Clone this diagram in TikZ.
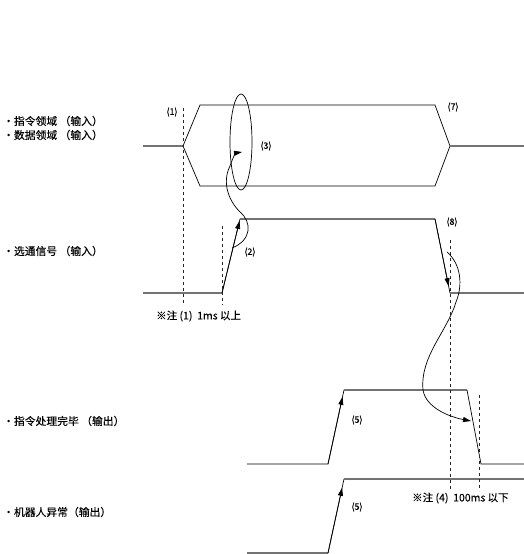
\documentclass[tikz,border=0pt]{standalone}
\usepackage{fontspec}
\newfontfamily\cjk[FakeBold=0.2]{Noto Sans CJK SC}
\usetikzlibrary{arrows.meta, shapes.geometric}

\begin{document}
\begin{tikzpicture}[
    x=1pt, y=-1pt,
    >={Triangle[length=8pt, width=5pt]},
    sig/.style={line width=1.1pt, black!55},
    wire/.style={line width=0.7pt, black},
    guide/.style={dashed, line width=0.7pt, black!85},
    lbl/.style={font=\cjk\fontsize{10.8}{11}\selectfont, anchor=west, inner sep=0pt},
    tag/.style={font=\cjk\fontsize{9}{10}\selectfont, inner sep=0pt},
    note/.style={font=\cjk\fontsize{10.5}{11}\selectfont, inner sep=0pt, anchor=west}
]
    \useasboundingbox (0,0) rectangle (524,554);

    % signal names
    \node[lbl] (cmdarea) at (3,121) {・指令领域 （输入）};
    \node[lbl] (dataarea) at (3,135) {・数据领域 （输入）};
    \node[lbl] (strobe) at (3,251) {・选通信号 （输入）};
    \node[lbl] (done) at (3,421) {·指令处理完毕 （输出）};
    \node[lbl] (alarm) at (3,512) {・机器人异常（输出）};

    % command / data bus
    \coordinate (b0) at (143,146);
    \coordinate (bl) at (183,146);
    \coordinate (btl) at (200,105);
    \coordinate (bbl) at (200,186);
    \coordinate (btr) at (435,105);
    \coordinate (bbr) at (435,186);
    \coordinate (br) at (450,146);
    \coordinate (b1) at (524,146);
    \draw[sig] (b0) -- (bl);
    \draw[wire] (btl) -- (bl) -- (bbl) -- (bbr) -- (br) -- (btr) -- cycle;
    \draw[sig] (br) -- (b1);

    % strobe
    \coordinate (s0) at (143,293);
    \coordinate (s1) at (222,293);
    \coordinate (s2) at (240,219);
    \coordinate (s3) at (435,219);
    \coordinate (s4) at (450,293);
    \coordinate (s5) at (524,293);
    \draw[sig] (s0) -- (s1);
    \draw[wire] (s1) -- (s2);
    \draw[wire, ->, shorten >=2pt] (s1) -- (s2);
    \draw[sig] (s2) -- (s3);
    \draw[wire] (s3) -- (s4);
    \draw[wire, ->, shorten >=7pt] (s3) -- (s4);
    \draw[sig] (s4) -- (s5);

    % command done
    \coordinate (d0) at (247,464);
    \coordinate (d1) at (328,464);
    \coordinate (d2) at (344,390);
    \coordinate (d3) at (467,390);
    \coordinate (d4) at (481,464);
    \coordinate (d5) at (524,464);
    \draw[wire] (d0) -- (d1) -- (d2);
    \draw[wire, ->, shorten >=7pt] (d1) -- (d2);
    \draw[sig] (d2) -- (d3);
    \draw[wire] (d3) -- (d4) -- (d5);

    % robot alarm
    \coordinate (a0) at (247,553);
    \coordinate (a1) at (328,553);
    \coordinate (a2) at (344,479);
    \coordinate (a3) at (524,479);
    \draw[sig] (a0) -- (a1);
    \draw[wire] (a1) -- (a2);
    \draw[wire, ->, shorten >=9pt] (a1) -- (a2);
    \draw[sig] (a2) -- (a3);

    % timing guides
    \coordinate (g1t) at (183,108);
    \coordinate (g1b) at (183,305);
    \coordinate (g2t) at (222,226);
    \coordinate (g2b) at (222,305);
    \coordinate (g3t) at (450,240);
    \coordinate (g3b) at (450,491);
    \coordinate (g4t) at (479,395);
    \coordinate (g4b) at (479,491);
    \draw[guide] (g1t) -- (g1b);
    \draw[guide] (g2t) -- (g2b);
    \draw[guide] (g3t) -- (g3b);
    \draw[guide] (g4t) -- (g4b);

    % causal curves
    \node[draw, ellipse, line width=0.7pt, minimum width=22pt, minimum height=96pt, inner sep=0pt] (ring) at (241,142) {};
    \coordinate (c2a) at (232,248);
    \coordinate (c2b) at (240,212);
    \coordinate (c2c) at (230,166);
    \coordinate (c2e) at (242,152);
    \draw[wire, ->] (c2a) .. controls (252,240) and (252,222) .. (c2b)
        .. controls (228,200) and (222,182) .. (c2c)
        .. controls (233,157) and (236,153) .. (c2e);
    \coordinate (c8a) at (447,252);
    \coordinate (c8b) at (456,302);
    \coordinate (c8c) at (423,390);
    \coordinate (c8e) at (471,421);
    \draw[wire, ->] (c8a) .. controls (461,264) and (463,285) .. (c8b)
        .. controls (447,332) and (420,356) .. (c8c)
        .. controls (426,408) and (450,417) .. (c8e);

    % markers
    \node[tag] (m1) at (172,112) {(1)};
    \node[tag] (m3) at (266,146) {(3)};
    \node[tag] (m2) at (250,252) {(2)};
    \node[tag] (m7) at (453,107) {(7)};
    \node[tag] (m8) at (452,222) {(8)};
    \node[tag] (m5a) at (357,420) {(5)};
    \node[tag] (m5b) at (357,507) {(5)};
    \node[note] (n1) at (156,316) {※注 (1)\ \ 1ms 以上};
    \node[note] (n4) at (412,498) {※注 (4)\ \ 100ms 以下};
\end{tikzpicture}
\end{document}
